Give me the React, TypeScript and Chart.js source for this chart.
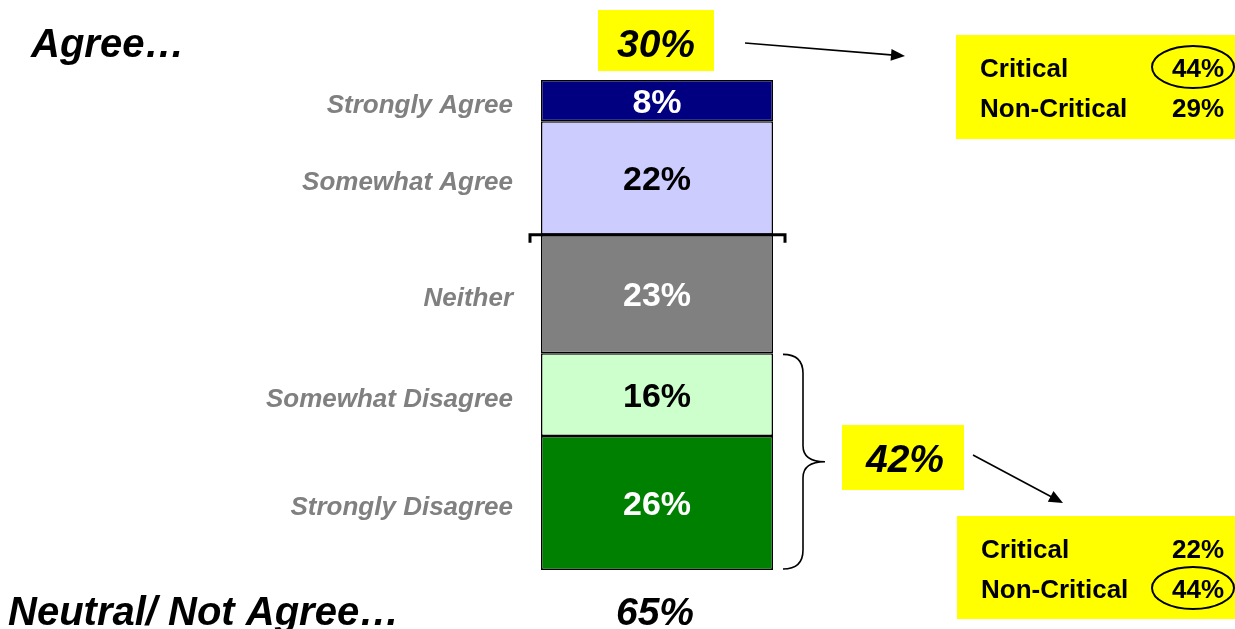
import React, { useEffect, useRef } from "react";
import { Chart, registerables } from "chart.js";

Chart.register(...registerables);

// Segments listed bottom -> top (Chart.js stacks the first dataset at the bottom)
const categories = ["Strongly Disagree", "Somewhat Disagree", "Neither", "Somewhat Agree", "Strongly Agree"];
const values = [26, 16, 23, 22, 8];
const segmentColors = ["#008000", "#CCFFCC", "#808080", "#CCCCFF", "#000080"];
const valueTextColors = ["#FFFFFF", "#000000", "#FFFFFF", "#000000", "#FFFFFF"];

const agreeGroup = ["Somewhat Agree", "Strongly Agree"];
const disagreeGroup = ["Strongly Disagree", "Somewhat Disagree"];
const notAgreeGroup = ["Strongly Disagree", "Somewhat Disagree", "Neither"];

const subgroupLabels = ["Critical", "Non-Critical"];
const agreeBySubgroup = [44, 29];
const disagreeBySubgroup = [22, 44];
const agreeCircledIndex = 0;
const disagreeCircledIndex = 1;

const titleAgree = "Agree…";
const titleNotAgree = "Neutral/ Not Agree…";

const W = 1235;
const H = 629;
const FONT = 'Arial, "Liberation Sans", Helvetica, sans-serif';

const sumOf = (names: string[]) =>
  names.reduce((s, n) => s + values[categories.indexOf(n)], 0);

function arrow(ctx: CanvasRenderingContext2D, x0: number, y0: number, x1: number, y1: number) {
  const ang = Math.atan2(y1 - y0, x1 - x0);
  const len = 14;
  const half = 6;
  ctx.save();
  ctx.strokeStyle = "#000";
  ctx.fillStyle = "#000";
  ctx.lineWidth = 1.6;
  ctx.beginPath();
  ctx.moveTo(x0, y0);
  ctx.lineTo(x1 - Math.cos(ang) * len * 0.8, y1 - Math.sin(ang) * len * 0.8);
  ctx.stroke();
  ctx.beginPath();
  ctx.moveTo(x1, y1);
  ctx.lineTo(
    x1 - Math.cos(ang) * len + Math.cos(ang + Math.PI / 2) * half,
    y1 - Math.sin(ang) * len + Math.sin(ang + Math.PI / 2) * half
  );
  ctx.lineTo(
    x1 - Math.cos(ang) * len - Math.cos(ang + Math.PI / 2) * half,
    y1 - Math.sin(ang) * len - Math.sin(ang + Math.PI / 2) * half
  );
  ctx.closePath();
  ctx.fill();
  ctx.restore();
}

function subgroupBox(
  ctx: CanvasRenderingContext2D,
  x: number,
  y: number,
  w: number,
  h: number,
  vals: number[],
  circled: number
) {
  ctx.save();
  ctx.fillStyle = "#FFFF00";
  ctx.fillRect(x, y, w, h);
  ctx.fillStyle = "#000";
  ctx.font = `bold 26px ${FONT}`;
  ctx.textBaseline = "alphabetic";
  subgroupLabels.forEach((lab, i) => {
    const by = y + 42 + i * 40;
    ctx.textAlign = "left";
    ctx.fillText(lab, x + 24, by);
    ctx.textAlign = "right";
    ctx.fillText(`${vals[i]}%`, x + w - 11, by);
    if (i === circled) {
      ctx.beginPath();
      ctx.lineWidth = 2;
      ctx.strokeStyle = "#000";
      ctx.ellipse(x + w - 42, by - 10, 41, 21, 0, 0, Math.PI * 2);
      ctx.stroke();
    }
  });
  ctx.restore();
}

const annotations = {
  id: "annotations",
  afterDatasetsDraw(chart: any) {
    const ctx: CanvasRenderingContext2D = chart.ctx;
    const els = categories.map((_, i) => chart.getDatasetMeta(i).data[0]);
    const left = els[0].x - els[0].width / 2;
    const right = els[0].x + els[0].width / 2;
    const cx = els[0].x;

    // values inside the bar
    ctx.save();
    ctx.textAlign = "center";
    ctx.textBaseline = "middle";
    ctx.font = `bold 34px ${FONT}`;
    els.forEach((el: any, i: number) => {
      ctx.fillStyle = valueTextColors[i];
      ctx.fillText(`${values[i]}%`, cx, (el.y + el.base) / 2 + 3);
    });

    // category labels on the left
    ctx.textAlign = "right";
    ctx.font = `italic bold 26px ${FONT}`;
    ctx.fillStyle = "#808080";
    els.forEach((el: any, i: number) => {
      ctx.fillText(categories[i], left - 28, (el.y + el.base) / 2 + 5);
    });
    ctx.restore();

    // bracket line between agree and neither
    const neitherTop = els[categories.indexOf("Neither")].y;
    ctx.save();
    ctx.strokeStyle = "#000";
    ctx.lineWidth = 3;
    ctx.beginPath();
    ctx.moveTo(left - 11, neitherTop + 8);
    ctx.lineTo(left - 11, neitherTop);
    ctx.lineTo(right + 12, neitherTop);
    ctx.lineTo(right + 12, neitherTop + 8);
    ctx.stroke();
    ctx.restore();

    // curly brace around disagree group
    const dTop = els[categories.indexOf("Somewhat Disagree")].y;
    const dBot = els[0].base;
    const x0 = right + 10;
    const xm = x0 + 20;
    const tip = x0 + 42;
    const mid = (dTop + dBot) / 2;
    ctx.save();
    ctx.strokeStyle = "#000";
    ctx.lineWidth = 1.6;
    ctx.beginPath();
    ctx.moveTo(x0, dTop + 1);
    ctx.quadraticCurveTo(xm, dTop + 1, xm, dTop + 20);
    ctx.lineTo(xm, mid - 16);
    ctx.quadraticCurveTo(xm, mid, tip, mid);
    ctx.quadraticCurveTo(xm, mid, xm, mid + 16);
    ctx.lineTo(xm, dBot - 20);
    ctx.quadraticCurveTo(xm, dBot - 1, x0, dBot - 1);
    ctx.stroke();
    ctx.restore();

    // big italic headings and totals
    ctx.save();
    ctx.font = `italic bold 40px ${FONT}`;
    ctx.fillStyle = "#000";
    ctx.textBaseline = "alphabetic";
    ctx.textAlign = "left";
    ctx.fillText(titleAgree, 31, 57);
    ctx.fillText(titleNotAgree, 8, 625);

    ctx.font = `italic bold 39px ${FONT}`;
    // 30% box
    ctx.fillStyle = "#FFFF00";
    ctx.fillRect(598, 10, 116, 61);
    ctx.fillStyle = "#000";
    ctx.textAlign = "center";
    ctx.fillText(`${sumOf(agreeGroup)}%`, 656, 57);

    // 42% box
    ctx.fillStyle = "#FFFF00";
    ctx.fillRect(842, 425, 122, 65);
    ctx.fillStyle = "#000";
    ctx.fillText(`${sumOf(disagreeGroup)}%`, 905, 472);

    // 65%
    ctx.fillText(`${sumOf(notAgreeGroup)}%`, 655, 625);
    ctx.restore();

    // arrows
    arrow(ctx, 745, 43, 905, 56);
    arrow(ctx, 973, 455, 1063, 503);

    // subgroup boxes
    subgroupBox(ctx, 956, 35, 279, 104, agreeBySubgroup, agreeCircledIndex);
    subgroupBox(ctx, 957, 516, 278, 103, disagreeBySubgroup, disagreeCircledIndex);
  },
};

export default function App() {
  const ref = useRef<HTMLCanvasElement | null>(null);
  useEffect(() => {
    if (!ref.current) return;
    const chart = new Chart(ref.current, {
      type: "bar",
      data: {
        labels: [""],
        datasets: categories.map((c, i) => ({
          label: c,
          data: [values[i]],
          backgroundColor: segmentColors[i],
          borderColor: "#000000",
          borderWidth: 1.5,
          borderSkipped: false,
          barPercentage: 1,
          categoryPercentage: 1,
          inflateAmount: 0,
        })),
      },
      options: {
        responsive: false,
        animation: false,
        devicePixelRatio: 1,
        layout: { padding: { left: 541, right: W - 773, top: 80, bottom: H - 570 } },
        scales: {
          x: { stacked: true, display: false },
          y: { stacked: true, display: false, min: 0, max: sumOf(categories) },
        },
        plugins: {
          legend: { display: false },
          tooltip: { enabled: false },
        },
      },
      plugins: [annotations],
    });
    return () => chart.destroy();
  }, []);
  return (
    <div style={{ position: "fixed", left: 0, top: 0, width: W, height: H, overflow: "hidden", background: "#fff" }}>
      <canvas ref={ref} width={W} height={H} style={{ display: "block" }} />
    </div>
  );
}
